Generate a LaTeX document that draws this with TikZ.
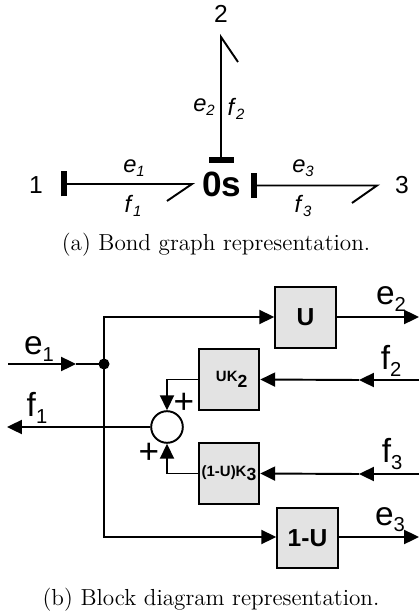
\documentclass[tikz,border=0pt]{standalone}
\usepackage{fontspec}
\newfontfamily\labelfont{Liberation Sans}
\usetikzlibrary{arrows.meta}
\newcommand{\lab}[2]{\textit{#1}\raisebox{-0.35ex}{\fontsize{8.5}{8.5}\selectfont\textit{#2}}}
\newcommand{\sig}[2]{#1\raisebox{-0.35ex}{\fontsize{11.5}{11.5}\selectfont #2}}
\tikzset{
	bond/.style={line width=1.1pt},
	bar/.style={line width=3pt},
	wire/.style={line width=1.1pt},
	arrowed/.style={wire, -{Triangle[length=8.5pt,width=8pt]}},
	blockbox/.style={draw, line width=1.1pt, fill=black!11, minimum size=34.5pt, inner sep=0pt, font=\labelfont\bfseries},
	bondlab/.style={font=\labelfont\fontsize{13.5}{13.5}\selectfont, inner sep=0pt},
	portlab/.style={font=\labelfont\fontsize{14}{14}\selectfont, inner sep=0pt},
	siglab/.style={font=\labelfont\fontsize{19}{19}\selectfont, inner sep=0pt},
	caplab/.style={font=\fontsize{13.2}{15}\selectfont, inner sep=0pt}
}
\begin{document}
\begin{tikzpicture}[x=0.02cm, y=-0.02cm]
	\useasboundingbox (0,0) rectangle (419,614);

	% bond graph
	\node [font=\labelfont\bfseries\fontsize{20}{20}\selectfont, inner sep=0pt] (zero) at (222,184) {0s};
	\node [portlab] (port1) at (36,185) {1};
	\node [portlab] (port2) at (221,14) {2};
	\node [portlab] (port3) at (402,185) {3};

	\coordinate (b1a) at (64,184);
	\coordinate (b1b) at (192,184);
	\coordinate (b1c) at (167,201);
	\coordinate (b2a) at (221,160);
	\coordinate (b2b) at (221,37);
	\coordinate (b2c) at (238,62);
	\coordinate (b3a) at (254,185.5);
	\coordinate (b3b) at (377,185.5);
	\coordinate (b3c) at (352,203);

	\draw [bond] (b1a) -- (b1b) -- (b1c);
	\draw [bond] (b2a) -- (b2b) -- (b2c);
	\draw [bond] (b3a) -- (b3b) -- (b3c);
	\draw [bar] ([yshift=-12.5*0.02cm]b1a) -- ([yshift=12.5*0.02cm]b1a);
	\draw [bar] ([xshift=-12*0.02cm]b2a) -- ([xshift=13*0.02cm]b2a);
	\draw [bar] ([yshift=-12.5*0.02cm]b3a) -- ([yshift=12.5*0.02cm]b3a);

	\node [bondlab] (e1) at (134,168) {\lab{e}{1}};
	\node [bondlab] (f1) at (133,206) {\lab{f}{1}};
	\node [bondlab] (e2) at (204,107) {\lab{e}{2}};
	\node [bondlab] (f2) at (236,109) {\lab{f}{2}};
	\node [bondlab] (e3) at (303,168) {\lab{e}{3}};
	\node [bondlab] (f3) at (303,206) {\lab{f}{3}};

	\node [caplab] (capa) at (216,245) {(a) Bond graph representation.};

	% block diagram
	\node [blockbox, font=\labelfont\bfseries\fontsize{14}{14}\selectfont] (u) at (305.5,317.5) {U};
	\node [blockbox, font=\labelfont\bfseries\fontsize{14}{14}\selectfont] (oneu) at (307.5,538) {1-U};
	\node [blockbox, font=\labelfont\bfseries\fontsize{8.5}{8.5}\selectfont] (uk) at (229,379.5) {\hspace{3pt}UK\raisebox{-0.75ex}{\fontsize{10}{10}\selectfont 2}};
	\node [blockbox, font=\labelfont\bfseries\fontsize{8.5}{8.5}\selectfont] (ku) at (229,473.5) {(1-U)K\raisebox{-0.55ex}{\fontsize{10}{10}\selectfont 3}};
	\node [circle, draw, fill=white, line width=1.1pt, minimum size=18pt, inner sep=0pt] (sum) at (167,427) {};
	\fill (104,364) circle [radius=5.5] coordinate (dot);

	\coordinate (ein) at (8,364);
	\coordinate (emid) at (76,364);
	\coordinate (top) at (104,317);
	\coordinate (bot) at (104,537);
	\coordinate (fout) at (7,427);
	\coordinate (eout2) at (419,317);
	\coordinate (eout3) at (419,537);
	\coordinate (fin2) at (419,380);
	\coordinate (fmid2) at (359,380);
	\coordinate (fin3) at (419,474);
	\coordinate (fmid3) at (359,474);

	\draw [arrowed] (ein) -- (emid);
	\draw [wire] (emid) -- (dot);
	\draw [arrowed] (dot) -- (top) -- (u.west |- top);
	\draw [arrowed] (dot) -- (bot) -- (oneu.west |- bot);
	\draw [arrowed] (u.east |- top) -- (eout2);
	\draw [arrowed] (oneu.east |- bot) -- (eout3);
	\draw [arrowed] (fin2) -- (fmid2);
	\draw [arrowed] (fmid2) -- (uk.east);
	\draw [arrowed] (fin3) -- (fmid3);
	\draw [arrowed] (fmid3) -- (ku.east);
	\draw [arrowed] (uk.west) -| (sum.north);
	\draw [arrowed] (ku.west) -| (sum.south);
	\draw [arrowed] (sum.west) -- (fout);

	\node [siglab, font=\labelfont\fontsize{20}{20}\selectfont] (plusa) at (184,403) {+};
	\node [siglab, font=\labelfont\fontsize{20}{20}\selectfont] (plusb) at (149,453) {+};

	\node [siglab] (se1) at (39,349) {\sig{e}{1}};
	\node [siglab] (sf1) at (37,408) {\sig{f}{1}};
	\node [siglab] (se2) at (391,299) {\sig{e}{2}};
	\node [siglab] (sf2) at (391,361) {\sig{f}{2}};
	\node [siglab] (sf3) at (392,454) {\sig{f}{3}};
	\node [siglab] (se3) at (390,520) {\sig{e}{3}};

	\node [caplab] (capb) at (211,600) {(b) Block diagram representation.};
\end{tikzpicture}
\end{document}
